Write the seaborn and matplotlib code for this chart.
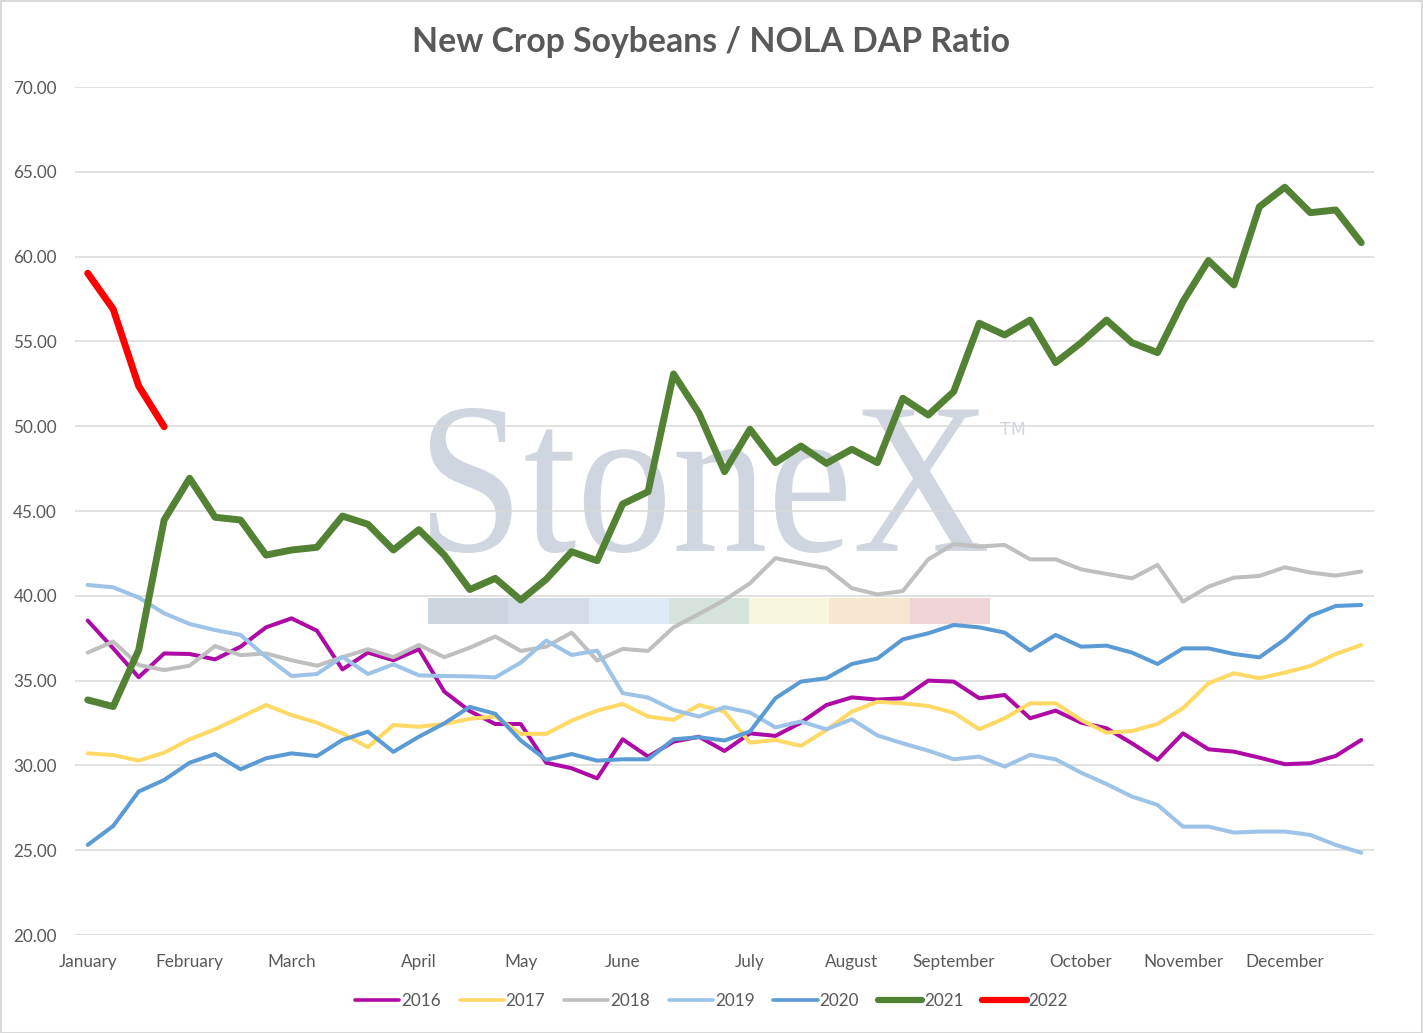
import numpy as np
import pandas as pd
import matplotlib
matplotlib.use("Agg")
import matplotlib.pyplot as plt
import seaborn as sns
from matplotlib.textpath import TextPath
from matplotlib.font_manager import FontProperties
from matplotlib.patches import PathPatch, Rectangle
from matplotlib.transforms import Affine2D
from matplotlib.lines import Line2D

###-------DATA------###

# weekly points, index 0..50 (category axis)
month_labels = ["January", "February", "March", "April", "May", "June", "July",
                "August", "September", "October", "November", "December"]
month_pos = [0, 4, 8, 13, 17, 21, 26, 30, 34, 39, 43, 47]

years = ["2016", "2017", "2018", "2019", "2020", "2021", "2022"]

r2016 = [38.54, 36.90, 35.20, 36.60, 36.57, 36.25, 37.00, 38.14, 38.67, 37.94,
         35.66, 36.65, 36.20, 36.85, 34.35, 33.20, 32.44, 32.44, 30.16, 29.83,
         29.24, 31.54, 30.52, 31.40, 31.69, 30.85, 31.89, 31.74, 32.52, 33.56,
         34.01, 33.88, 33.96, 35.00, 34.94, 33.96, 34.15, 32.78, 33.23, 32.52,
         32.19, 31.30, 30.33, 31.89, 30.95, 30.81, 30.46, 30.07, 30.13, 30.56,
         31.50]
r2017 = [30.71, 30.61, 30.28, 30.75, 31.54, 32.13, 32.84, 33.56, 32.97, 32.52,
         31.89, 31.07, 32.38, 32.28, 32.44, 32.75, 32.88, 31.86, 31.86, 32.64,
         33.23, 33.62, 32.88, 32.68, 33.56, 33.17, 31.34, 31.50, 31.15, 32.09,
         33.17, 33.75, 33.66, 33.50, 33.10, 32.13, 32.78, 33.66, 33.66, 32.68,
         31.93, 32.03, 32.44, 33.37, 34.84, 35.43, 35.14, 35.47, 35.86, 36.57,
         37.10]
r2018 = [36.65, 37.30, 35.92, 35.62, 35.88, 37.04, 36.50, 36.60, 36.20, 35.88,
         36.38, 36.85, 36.38, 37.10, 36.38, 36.94, 37.60, 36.75, 37.00, 37.83,
         36.18, 36.87, 36.75, 38.14, 38.93, 39.75, 40.74, 42.22, 41.92, 41.63,
         40.45, 40.08, 40.28, 42.15, 43.05, 42.90, 43.00, 42.15, 42.15, 41.56,
         41.29, 41.03, 41.82, 39.66, 40.54, 41.07, 41.17, 41.68, 41.37, 41.19,
         41.43]
r2019 = [40.64, 40.50, 39.90, 38.97, 38.34, 37.98, 37.69, 36.40, 35.27, 35.39,
         36.40, 35.39, 35.96, 35.31, 35.27, 35.25, 35.19, 36.06, 37.36, 36.51,
         36.77, 34.26, 34.00, 33.27, 32.88, 33.43, 33.12, 32.24, 32.59, 32.13,
         32.72, 31.77, 31.30, 30.87, 30.36, 30.52, 29.93, 30.62, 30.36, 29.57,
         28.90, 28.16, 27.67, 26.39, 26.39, 26.04, 26.10, 26.10, 25.90, 25.31,
         24.85]
r2020 = [25.31, 26.43, 28.46, 29.14, 30.16, 30.67, 29.77, 30.42, 30.71, 30.55,
         31.50, 31.99, 30.80, 31.69, 32.48, 33.45, 33.04, 31.47, 30.33, 30.67,
         30.28, 30.36, 30.36, 31.54, 31.66, 31.47, 32.00, 33.96, 34.94, 35.14,
         35.98, 36.30, 37.43, 37.79, 38.28, 38.14, 37.83, 36.77, 37.69, 37.00,
         37.06, 36.65, 35.98, 36.90, 36.90, 36.57, 36.37, 37.43, 38.81, 39.40,
         39.46]
r2021 = [33.86, 33.47, 36.80, 44.47, 46.93, 44.63, 44.47, 42.40, 42.70, 42.86,
         44.70, 44.22, 42.70, 43.90, 42.40, 40.37, 41.03, 39.75, 40.97, 42.60,
         42.07, 45.41, 46.14, 53.08, 50.76, 47.32, 49.82, 47.85, 48.83, 47.81,
         48.64, 47.85, 51.65, 50.66, 52.04, 56.07, 55.38, 56.26, 53.75, 54.92,
         56.26, 54.92, 54.34, 57.35, 59.77, 58.33, 62.94, 64.09, 62.59, 62.75,
         60.82]
r2022 = [59.02, 56.90, 52.37, 49.97]

series = [r2016, r2017, r2018, r2019, r2020, r2021, r2022]

colors = {"2016": "#AE0AA6", "2017": "#FFD966", "2018": "#BFBFBF", "2019": "#9DC3E6",
          "2020": "#5B9BD5", "2021": "#548235", "2022": "#FF0000"}
widths = {"2016": 2.9, "2017": 2.9, "2018": 2.9, "2019": 2.9,
          "2020": 2.9, "2021": 5.0, "2022": 5.0}

rows = []
for yr, vals in zip(years, series):
    for i, v in enumerate(vals):
        rows.append((i, v, yr))
df = pd.DataFrame(rows, columns=["week", "ratio", "year"])

###-------PLOT------###

sns.set_theme(style="white")
plt.rcParams["font.family"] = ["Lato", "DejaVu Sans"]
text_col = "#595959"

W, H = 1423, 1033
fig = plt.figure(figsize=(W / 100, H / 100), dpi=100)
ax = fig.add_axes([75 / W, 98 / H, 1299 / W, 848 / H])
ax.set_facecolor("none")

# StoneX watermark behind the plot area
wm_col = "#cfd6df"
fp = FontProperties(family="Liberation Serif")
tp = TextPath((0, 0), "StoneX", size=100, prop=fp)
ext = tp.get_extents()
x0, x1, y0, y1 = 430, 987, 408, 553
tr = (Affine2D().translate(-ext.x0, -ext.y0)
      .scale((x1 - x0) / ext.width / W, (y1 - y0) / ext.height / H)
      .translate(x0 / W, 1 - y1 / H) + fig.transFigure)
fig.add_artist(PathPatch(tp, facecolor=wm_col, edgecolor="none", transform=tr, zorder=-1))
fig.text(1000 / W, 1 - 430 / H, "TM", color=wm_col, fontsize=12.5, va="center",
         ha="left", family="DejaVu Sans", zorder=-1)
band_cols = ["#cdd5de", "#d3dde8", "#dde9f4", "#d5e3da", "#f8f6dc", "#f9e6d0", "#efd3d6"]
bw = (990 - 428) / len(band_cols)
for k, c in enumerate(band_cols):
    fig.add_artist(Rectangle(((428 + k * bw) / W, 1 - 624 / H), bw / W, 26 / H,
                             transform=fig.transFigure, facecolor=c, edgecolor="none",
                             zorder=-1))

sns.lineplot(data=df, x="week", y="ratio", hue="year", palette=colors,
             size="year", sizes=widths, estimator=None, sort=False, legend=False,
             ax=ax, solid_capstyle="round", solid_joinstyle="round")

ax.set_xlim(-0.5, 50.5)
ax.set_ylim(20, 70)
ax.set_yticks(np.arange(20, 71, 5))
ax.set_yticklabels(["{:.2f}".format(v) for v in np.arange(20, 71, 5)])
ax.set_xticks(month_pos)
ax.set_xticklabels(month_labels)
ax.set_xlabel("")
ax.set_ylabel("")
ax.grid(axis="y", color="#d9d9d9", lw=1.1)
ax.set_axisbelow(True)
for s in ax.spines.values():
    s.set_visible(False)
ax.tick_params(axis="both", length=0, labelsize=12.3, labelcolor=text_col)
ax.tick_params(axis="y", pad=13)
ax.tick_params(axis="x", pad=14)

fig.text(0.5, 1 - 42 / H, "New Crop Soybeans / NOLA DAP Ratio", ha="center",
         va="center", fontsize=24.3, fontweight="bold", color=text_col)

handles = [Line2D([0], [0], color=colors[y], lw=widths[y] * 0.9, solid_capstyle="round")
           for y in years]
leg = fig.legend(handles, years, loc="center", bbox_to_anchor=(0.5, 1 - 1001 / H),
                 ncol=7, frameon=False, fontsize=12.3, handlelength=2.6,
                 handletextpad=0.1, columnspacing=1.1)
for t in leg.get_texts():
    t.set_color(text_col)

fig.add_artist(Rectangle((0.5 / W, 0.5 / H), 1 - 1.5 / W, 1 - 1.5 / H,
                         transform=fig.transFigure, fill=False,
                         edgecolor="#d9d9d9", lw=1.5))

fig.savefig("out.png", dpi=100)
